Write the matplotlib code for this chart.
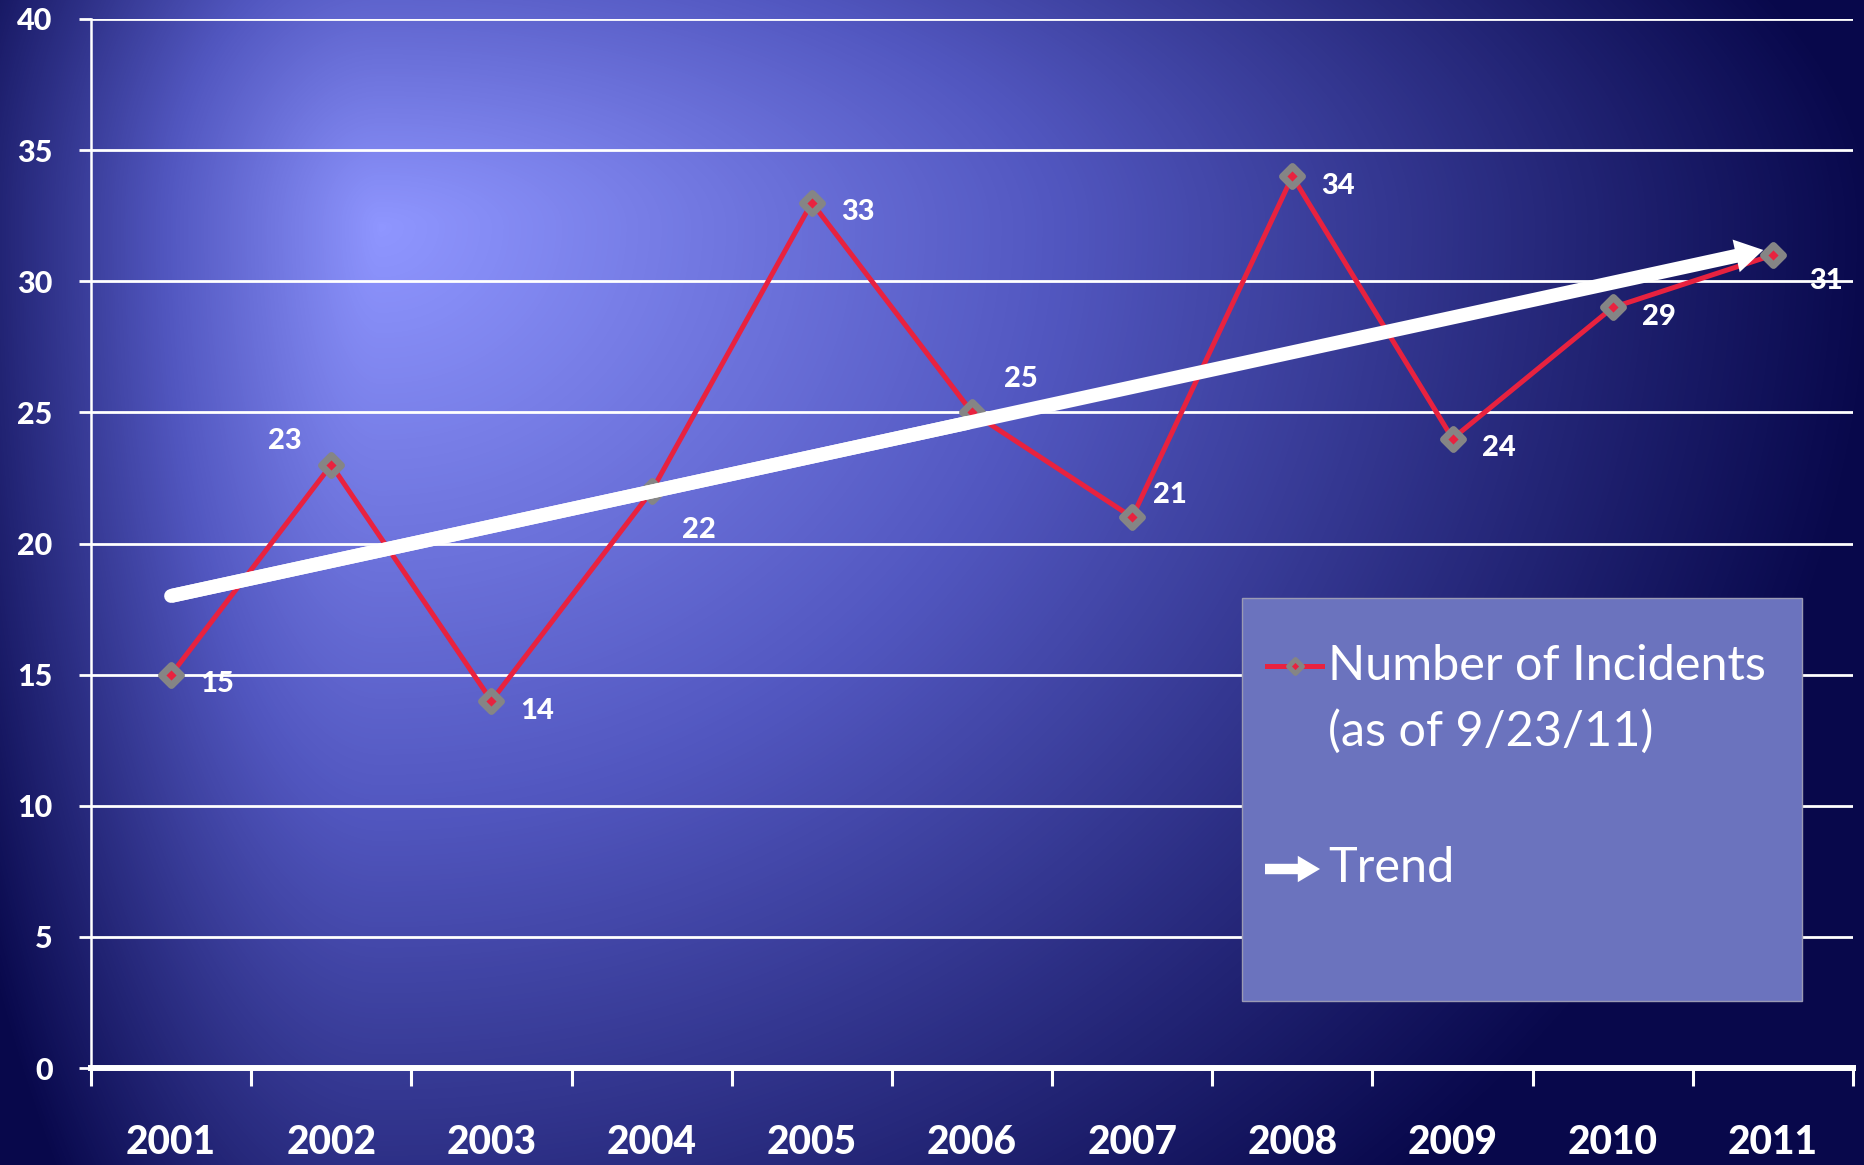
import numpy as np
import matplotlib
matplotlib.use('Agg')
import matplotlib.pyplot as plt
from matplotlib.colors import LinearSegmentedColormap
from matplotlib.patches import Rectangle, FancyArrowPatch
from matplotlib.lines import Line2D
from matplotlib.markers import MarkerStyle

# chart data
years = ['2001', '2002', '2003', '2004', '2005', '2006', '2007', '2008', '2009', '2010', '2011']
incidents = [15, 23, 14, 22, 33, 25, 21, 34, 24, 29, 31]
yticks = [0, 5, 10, 15, 20, 25, 30, 35, 40]
series_label = 'Number of Incidents\n(as of 9/23/11)'
trend_label = 'Trend'

RED = '#e8223f'
GREY = '#858585'
BOLD = 'black'

W, H = 1864, 1165
fig = plt.figure(figsize=(W / 100, H / 100), dpi=100)

# radial background, light spot up-left, dark navy edges
bg = fig.add_axes([0, 0, 1, 1], zorder=-10)
yy, xx = np.mgrid[0:H, 0:W]
dx = xx - 380.0
dy = yy - 226.0
sx = np.where(dx < 0, 475.0, 1500.0)
sy = np.where(dy < 0, 630.0, 1300.0)
t = np.clip(np.sqrt((dx / sx) ** 2 + (dy / sy) ** 2), 0, 1)
cmap = LinearSegmentedColormap.from_list('bg', [(0.0, (143/255, 150/255, 1.0)),
                                               (0.45, (82/255, 87/255, 192/255)),
                                               (1.0, (8/255, 8/255, 75/255))])
bg.imshow(t, cmap=cmap, vmin=0, vmax=1, aspect='auto', interpolation='bilinear')
bg.axis('off')

ax = fig.add_axes([91 / W, 97 / H, (1853 - 91) / W, (1068 - 19) / H])
ax.set_facecolor('none')

x = np.arange(len(years))
diamond = MarkerStyle('D', joinstyle='round')
ax.plot(x, incidents, color=RED, lw=3.6, marker=diamond, markersize=10,
        markerfacecolor=RED, markeredgecolor=GREY, markeredgewidth=5, zorder=3)

# linear trend drawn as a fat white arrow
k, b = np.polyfit(x, incidents, 1)
x0, x1 = x[0], x[-1] - 0.06
ax.plot([x0, (x0 + x1) / 2], [k * x0 + b, k * (x0 + x1) / 2 + b], color='white',
        lw=10, solid_capstyle='round', zorder=4)
arr = FancyArrowPatch((x0, k * x0 + b), (x1, k * x1 + b),
                      arrowstyle='simple,head_length=2.0,head_width=2.4,tail_width=1.0',
                      mutation_scale=10, color='white', lw=0, zorder=4,
                      shrinkA=0, shrinkB=0)
ax.add_patch(arr)

# value labels
offsets = {1: (-21, 17, 'right'), 3: (22, -28, 'left'), 5: (23, 24, 'left'),
           6: (15, 16, 'left'), 10: (26, -19, 'left')}
for i, v in enumerate(incidents):
    ox, oy, ha = offsets.get(i, (21, -7, 'left'))
    ax.annotate(str(v), (x[i], v), xytext=(ox, oy), textcoords='offset points',
                ha=ha, va='center', color='white', fontsize=21,
                fontfamily='Lato', fontweight=BOLD, zorder=5)

ax.set_xlim(-0.5, len(years) - 0.5)
ax.set_ylim(0, 40)
ax.set_yticks(yticks)
ax.set_xticks(x)
ax.set_xticklabels(years)
ax.set_xticks(np.arange(len(years) + 1) - 0.5, minor=True)
ax.grid(axis='y', color='white', lw=2)
ax.set_axisbelow(True)

for s in ['top', 'right']:
    ax.spines[s].set_visible(False)
ax.spines['left'].set_color('white')
ax.spines['left'].set_linewidth(1.8)
ax.spines['bottom'].set_color('white')
ax.spines['bottom'].set_linewidth(4.3)

ax.tick_params(axis='x', which='major', length=0, pad=40, labelsize=28, labelcolor='white')
ax.tick_params(axis='x', which='minor', length=13, width=2.2, color='white', direction='out')
ax.tick_params(axis='y', length=8.6, width=2, color='white', pad=19, labelsize=22,
               labelcolor='white')
for lab in ax.get_xticklabels() + ax.get_yticklabels():
    lab.set_fontfamily('Lato')
    lab.set_fontweight(BOLD)

# legend box, drawn by hand so the arrow sample can be shown
fig.patches.append(Rectangle((1242 / W, 1 - 1001 / H), (1802 - 1242) / W, (1001 - 598) / H,
                             transform=fig.transFigure, facecolor='#6b73be',
                             edgecolor='#9a9ab4', lw=1, zorder=6))
ly = 1 - 666 / H
fig.lines.append(Line2D([1267 / W, 1322 / W], [ly, ly], transform=fig.transFigure,
                        color=RED, lw=3.6, zorder=7))
fig.lines.append(Line2D([1294.5 / W], [ly], transform=fig.transFigure, marker=diamond,
                        markersize=7, markerfacecolor=RED, markeredgecolor=GREY,
                        markeredgewidth=3.5, zorder=8))
ty = 1 - 869 / H
fig.patches.append(FancyArrowPatch((1265 / W, ty), (1320 / W, ty), transform=fig.transFigure,
                                   arrowstyle='simple,head_length=1.6,head_width=1.9,tail_width=0.75',
                                   mutation_scale=10, color='white', lw=0, zorder=7,
                                   shrinkA=0, shrinkB=0))
fig.text(1328 / W, 1 - 666 / H, series_label.split('\n')[0], color='white', fontsize=35,
         fontfamily='Lato', va='center', ha='left', zorder=8)
fig.text(1328 / W, 1 - 731 / H, series_label.split('\n')[1], color='white', fontsize=35,
         fontfamily='Lato', va='center', ha='left', zorder=8)
fig.text(1328 / W, 1 - 868 / H, trend_label, color='white', fontsize=35,
         fontfamily='Lato', va='center', ha='left', zorder=8)

plt.savefig('out.png', dpi=100)
